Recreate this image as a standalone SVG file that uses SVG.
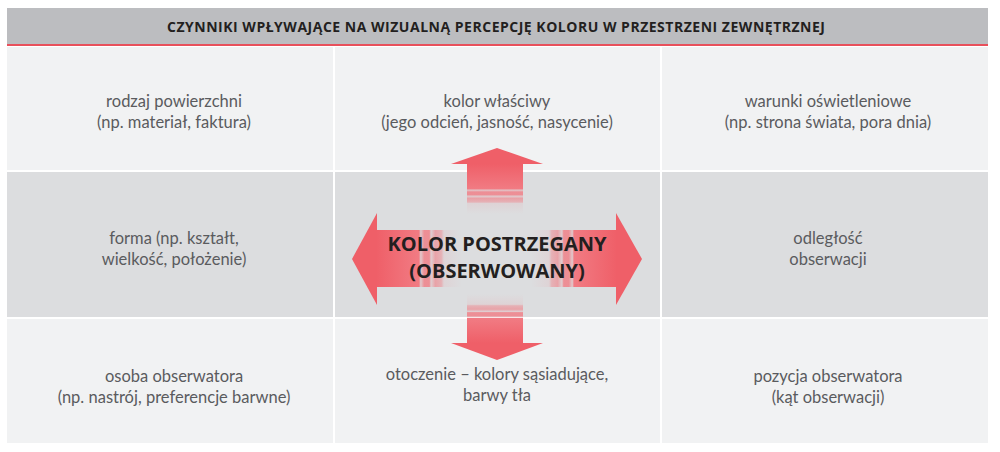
<svg xmlns="http://www.w3.org/2000/svg" width="1000" height="452" viewBox="0 0 1000 452">
<style>
.cellL{fill:#f1f2f3}
.cellD{fill:#dcdddf}
.t{font-family:Lato,"Open Sans","Noto Sans",sans-serif;font-size:16.5px;fill:#5a5b5e;text-anchor:middle}
.h{font-family:"Open Sans","Noto Sans",sans-serif;font-size:14px;font-weight:bold;fill:#231f20;text-anchor:middle}
.c{font-family:"Open Sans","Noto Sans",sans-serif;font-size:20px;font-weight:bold;fill:#231f20;text-anchor:middle}
.head{fill:#ef5f68}
</style>
<defs>
<linearGradient id="gL" gradientUnits="userSpaceOnUse" x1="376" y1="0" x2="462" y2="0">
<stop offset="0" stop-color="#ef5f68" stop-opacity="1"/>
<stop offset="0.5" stop-color="#f17b83" stop-opacity="1"/>
<stop offset="0.52" stop-color="#f17b83" stop-opacity="0.2"/>
<stop offset="0.56" stop-color="#f17b83" stop-opacity="0.8"/>
<stop offset="0.62" stop-color="#f17b83" stop-opacity="0.8"/>
<stop offset="0.64" stop-color="#f17b83" stop-opacity="0.15"/>
<stop offset="0.69" stop-color="#f17b83" stop-opacity="0.6"/>
<stop offset="0.76" stop-color="#f17b83" stop-opacity="0.45"/>
<stop offset="0.79" stop-color="#f17b83" stop-opacity="0.1"/>
<stop offset="1" stop-color="#f17b83" stop-opacity="0"/>
</linearGradient>
<linearGradient id="gR" href="#gL" xlink:href="#gL" xmlns:xlink="http://www.w3.org/1999/xlink" gradientUnits="userSpaceOnUse" x1="617" y1="0" x2="531" y2="0"/>
<linearGradient id="gU" href="#gL" xlink:href="#gL" xmlns:xlink="http://www.w3.org/1999/xlink" gradientUnits="userSpaceOnUse" x1="0" y1="164" x2="0" y2="214"/>
<linearGradient id="gD" href="#gL" xlink:href="#gL" xmlns:xlink="http://www.w3.org/1999/xlink" gradientUnits="userSpaceOnUse" x1="0" y1="343" x2="0" y2="294"/>
</defs>

<g id="header">
<rect x="7" y="8" width="981" height="37" fill="#bcbdc0"/>
<rect x="7" y="44" width="981" height="2" fill="#e8505b"/>
<text class="h" x="496" y="32" textLength="658" lengthAdjust="spacing">CZYNNIKI WPŁYWAJĄCE NA WIZUALNĄ PERCEPCJĘ KOLORU W PRZESTRZENI ZEWNĘTRZNEJ</text>
</g>

<g id="cell-rodzaj">
<rect class="cellL" x="7" y="47" width="326" height="123"/>
<text class="t" x="174" y="107">rodzaj powierzchni</text>
<text class="t" x="174" y="128">(np. materiał, faktura)</text>
</g>
<g id="cell-kolor">
<rect class="cellL" x="335" y="47" width="325" height="123"/>
<text class="t" x="497" y="107">kolor właściwy</text>
<text class="t" x="497" y="128">(jego odcień, jasność, nasycenie)</text>
</g>
<g id="cell-warunki">
<rect class="cellL" x="662" y="47" width="326" height="123"/>
<text class="t" x="828" y="107">warunki oświetleniowe</text>
<text class="t" x="828" y="128">(np. strona świata, pora dnia)</text>
</g>
<g id="cell-forma">
<rect class="cellD" x="7" y="172" width="326" height="145"/>
<text class="t" x="174" y="244">forma (np. kształt,</text>
<text class="t" x="174" y="265">wielkość, położenie)</text>
</g>
<g id="cell-center">
<rect class="cellD" x="335" y="172" width="325" height="145"/>
</g>
<g id="cell-odleglosc">
<rect class="cellD" x="662" y="172" width="326" height="145"/>
<text class="t" x="828" y="244">odległość</text>
<text class="t" x="828" y="265">obserwacji</text>
</g>
<g id="cell-osoba">
<rect class="cellL" x="7" y="319" width="326" height="124"/>
<text class="t" x="174" y="382">osoba obserwatora</text>
<text class="t" x="174" y="403">(np. nastrój, preferencje barwne)</text>
</g>
<g id="cell-otoczenie">
<rect class="cellL" x="335" y="319" width="325" height="124"/>
<text class="t" x="497" y="380">otoczenie – kolory sąsiadujące,</text>
<text class="t" x="497" y="401">barwy tła</text>
</g>
<g id="cell-pozycja">
<rect class="cellL" x="662" y="319" width="326" height="124"/>
<text class="t" x="828" y="382">pozycja obserwatora</text>
<text class="t" x="828" y="403">(kąt obserwacji)</text>
</g>

<g id="connectors">
<rect x="376" y="230" width="86" height="57" fill="url(#gL)"/>
<polygon class="head" points="377,213 377,305 352,259"/>
<rect x="531" y="230" width="86" height="57" fill="url(#gR)"/>
<polygon class="head" points="616,213 616,305 642,259"/>
<rect x="467" y="163" width="56" height="51" fill="url(#gU)"/>
<polygon class="head" points="451,164 543,164 497,148"/>
<rect x="467" y="294" width="56" height="50" fill="url(#gD)"/>
<polygon class="head" points="451,343 543,343 497,360"/>
</g>

<g id="center-label">
<text class="c" x="497" y="251">KOLOR POSTRZEGANY</text>
<text class="c" x="497" y="278">(OBSERWOWANY)</text>
</g>
</svg>
